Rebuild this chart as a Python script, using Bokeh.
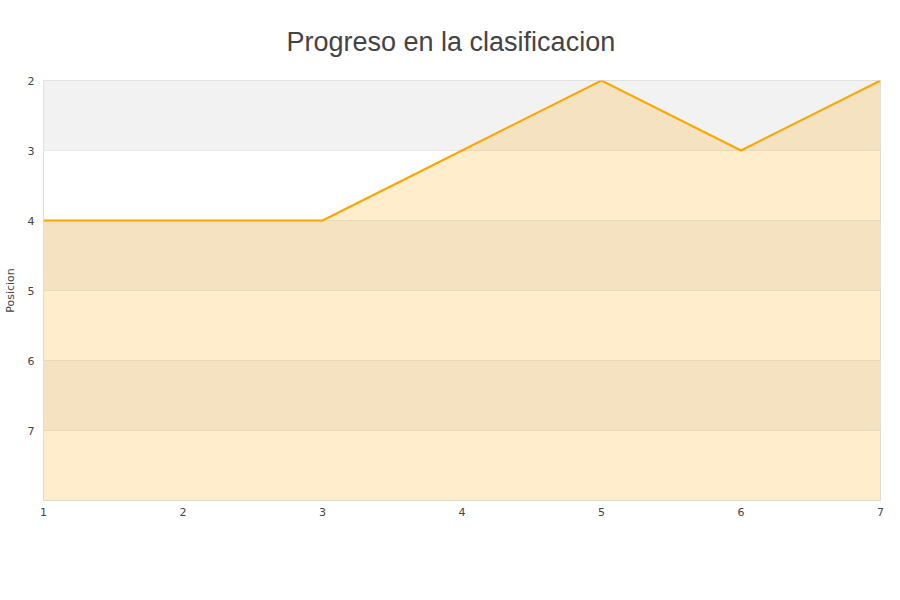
from bokeh.plotting import figure
from bokeh.models import Range1d, FixedTicker, BoxAnnotation, Legend, LegendItem, ColumnDataSource
from bokeh.embed import file_html
from bokeh.resources import INLINE

jornadas = [1, 2, 3, 4, 5, 6, 7]
posicion = [4, 4, 4, 3, 2, 3, 2]
serie = "Juli-eric"
y_ticks = [2, 3, 4, 5, 6, 7]

src = ColumnDataSource(dict(x=jornadas, y=posicion, base=[8] * len(jornadas)))

p = figure(width=884, height=584, output_backend="svg", toolbar_location=None,
           x_range=Range1d(1, 7), y_range=Range1d(8, 2),
           min_border_left=40, min_border_right=4, min_border_top=0, min_border_bottom=84)

p.title.text = "Progreso en la clasificacion"
p.title.align = "left"
p.title.offset = 243
p.title.standoff = 48
p.title.text_font = "Liberation Sans"
p.title.text_font_size = "27px"
p.title.text_font_style = "normal"
p.title.text_color = "#444444"

p.outline_line_color = "#dddddd"
p.background_fill_color = "white"
p.border_fill_color = "white"

for lo in (2, 4, 6):
    p.add_layout(BoxAnnotation(bottom=lo, top=lo + 1, fill_color="#f2f2f2", fill_alpha=1, line_alpha=0, level="underlay"))

p.xgrid.grid_line_color = None
p.ygrid.grid_line_color = "#dddddd"
p.ygrid.ticker = FixedTicker(ticks=y_ticks)

area = p.varea(x="x", y1="y", y2="base", source=src, fill_color="#ffa500", fill_alpha=0.2)
line = p.line(x="x", y="y", source=src, line_color="#ffa500", line_width=2)
swatch = p.scatter(x="x", y="y", source=src, marker="square", size=9,
                   fill_color="#ffecca", line_color="#888888", visible=False)

p.yaxis.ticker = FixedTicker(ticks=y_ticks)
p.xaxis.ticker = FixedTicker(ticks=jornadas)
for ax in (p.xaxis[0], p.yaxis[0]):
    ax.axis_line_color = None
    ax.major_tick_line_color = None
    ax.minor_tick_line_color = None
    ax.major_tick_out = 0
    ax.major_tick_in = 0
    ax.minor_tick_out = 0
    ax.minor_tick_in = 0
    ax.major_label_text_font = "DejaVu Sans"
    ax.major_label_text_font_size = "11px"
    ax.major_label_text_color = "#444444"
p.yaxis.major_label_standoff = 9
p.xaxis.major_label_standoff = 7
p.yaxis.axis_label = "Posicion"
p.yaxis.axis_label_text_font = "DejaVu Sans"
p.yaxis.axis_label_text_font_size = "11px"
p.yaxis.axis_label_text_font_style = "normal"
p.yaxis.axis_label_text_color = "#444444"
p.yaxis.axis_label_standoff = 8

legend = Legend(items=[LegendItem(label=serie, renderers=[swatch], index=0)],
                location=(760, -48), orientation="horizontal")
legend.border_line_color = None
legend.background_fill_alpha = 0
legend.padding = 0
legend.margin = 0
legend.label_text_font = "DejaVu Sans"
legend.label_text_font_size = "11px"
legend.label_text_color = "#222222"
legend.glyph_width = 12
legend.glyph_height = 12
legend.label_standoff = 6
p.add_layout(legend, "center")

open("out.html", "w").write(file_html(p, INLINE))
